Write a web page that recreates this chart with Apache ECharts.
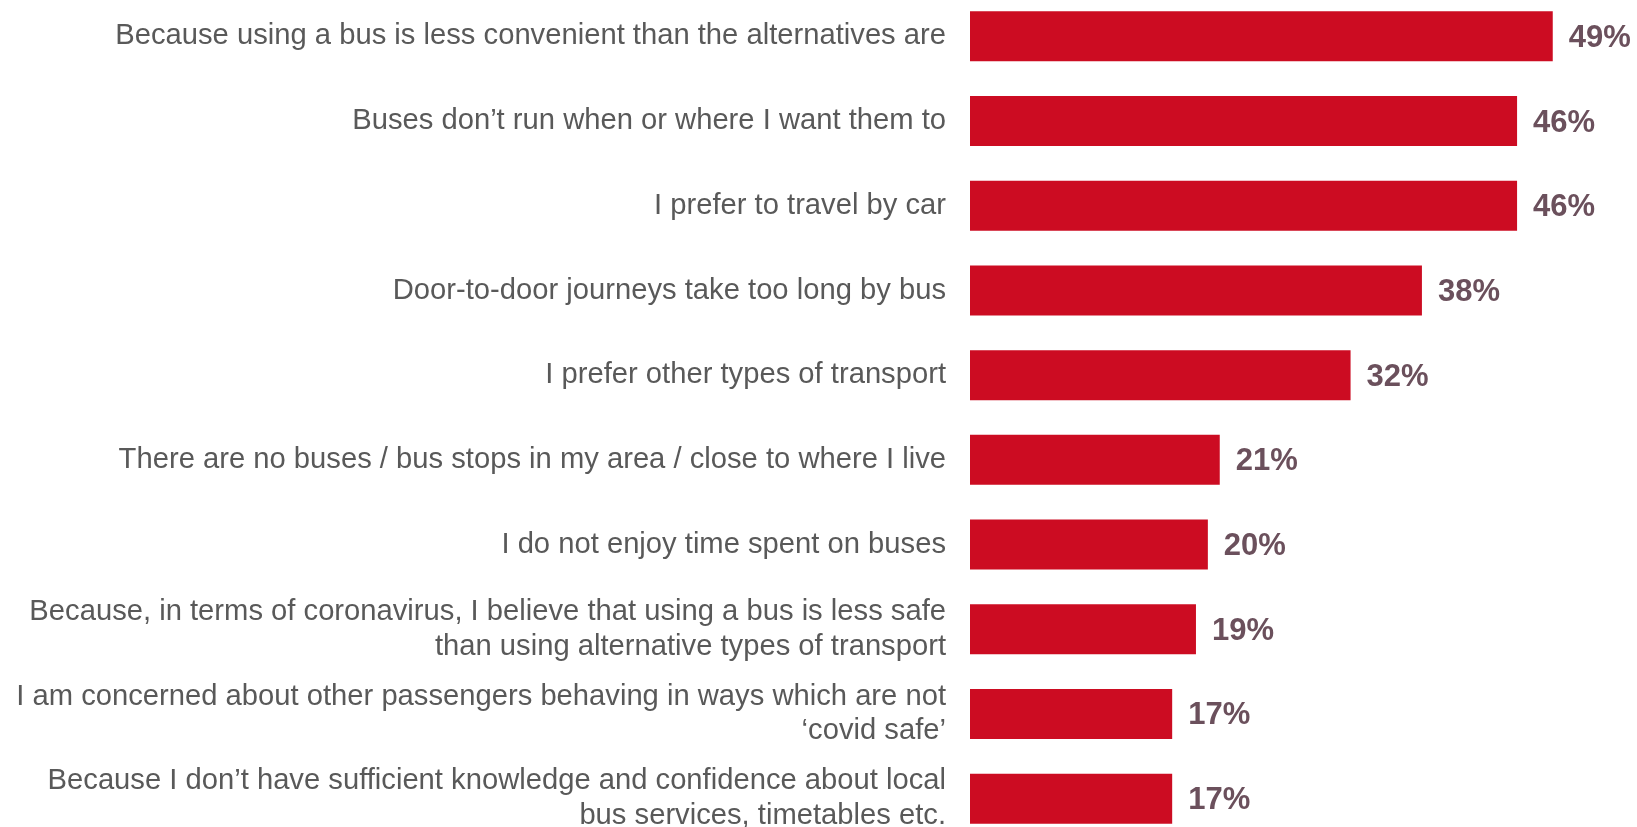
<!DOCTYPE html>
<html>
<head>
<meta charset="utf-8">
<script src="https://cdn.jsdelivr.net/npm/echarts@6/dist/echarts.min.js"></script>
<style>
html,body{margin:0;padding:0;background:#fff;}
#chart{width:1637px;height:827px;}
</style>
</head>
<body>
<div id="chart"></div>
<script>
const categories = [
  "Because using a bus is less convenient than the alternatives are",
  "Buses don’t run when or where I want them to",
  "I prefer to travel by car",
  "Door-to-door journeys take too long by bus",
  "I prefer other types of transport",
  "There are no buses / bus stops in my area / close to where I live",
  "I do not enjoy time spent on buses",
  "Because, in terms of coronavirus, I believe that using a bus is less safe\nthan using alternative types of transport",
  "I am concerned about other passengers behaving in ways which are not\n‘covid safe’",
  "Because I don’t have sufficient knowledge and confidence about local\nbus services, timetables etc."
];
const values = [49, 46, 46, 38, 32, 21, 20, 19, 17, 17];

const chart = echarts.init(document.getElementById('chart'), null, {renderer: 'canvas'});
chart.setOption({
  animation: false,
  backgroundColor: '#ffffff',
  grid: {left: 970, top: -6, width: 666, height: 847, containLabel: false, outerBoundsMode: 'none'},
  xAxis: {
    type: 'value', min: 0, max: 56, show: false
  },
  yAxis: {
    type: 'category', data: categories, inverse: true,
    axisLine: {show: false}, axisTick: {show: false}, splitLine: {show: false},
    axisLabel: {
      margin: 24, color: '#595959', fontSize: 29.2, lineHeight: 34.5,
      fontFamily: 'Liberation Sans, Arial, sans-serif', align: 'right'
    }
  },
  series: [{
    type: 'bar', data: values, barCategoryGap: '41%',
    itemStyle: {color: '#CC0C22'},
    label: {
      show: true, position: 'right', distance: 16, formatter: '{c}%', offset: [0, 2],
      color: '#6B505C', fontSize: 31, fontWeight: 'bold',
      fontFamily: 'Liberation Sans, Arial, sans-serif'
    }
  }]
});
</script>
</body>
</html>
